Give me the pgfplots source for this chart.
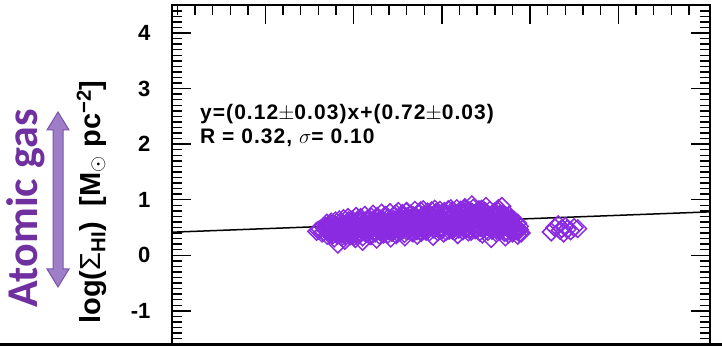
\documentclass[border=0pt]{standalone}
\usepackage{fontspec}
\setmainfont{Liberation Sans}
\newfontfamily\calib{Carlito}
\usepackage{pgfplots}
\pgfplotsset{compat=1.18}
\definecolor{mviolet}{RGB}{138,43,226}
\definecolor{titlepurple}{RGB}{112,48,160}
\definecolor{arrowfill}{RGB}{158,126,198}
\definecolor{arrowedge}{RGB}{122,84,172}

\begin{document}
\begin{tikzpicture}
\path[use as bounding box] (0pt,0pt) rectangle (722pt,347pt);
\begin{axis}[
  at={(172pt,2.8pt)}, anchor=south west,
  scale only axis, width=538pt, height=338.9pt,
  xmin=-2.53, xmax=0.52, ymin=-1.6, ymax=4.5,
  xtick=\empty,
  ytick={-1,0,1,2,3,4},
  major tick length=0pt,
  axis line style={line width=2pt},
  /pgf/number format/assume math mode=true,
  yticklabel style={font=\fontsize{22}{22}\selectfont\bfseries, xshift=-18pt},
]
% surface densities of the sampled regions
\addplot[only marks, mark=square, mark size=6.2pt,
  mark options={rotate=45, line width=1.5pt, draw=mviolet, fill=none}]
table {
x y
-1.71 0.43
-1.69 0.47
-1.68 0.40
-1.66 0.52
-1.65 0.36
-1.64 0.45
-1.63 0.56
-1.62 0.41
-1.61 0.31
-1.60 0.49
-1.59 0.20
-1.58 0.58
-1.57 0.38
-1.56 0.46
-1.55 0.27
-1.54 0.53
-1.53 0.62
-1.52 0.35
-1.51 0.44
-1.50 0.57
-1.49 0.30
-1.48 0.50
-1.47 0.66
-1.46 0.41
-1.45 0.25
-1.44 0.55
-1.43 0.47
-1.42 0.61
-1.41 0.36
-1.40 0.69
-1.39 0.52
-1.38 0.43
-1.37 0.29
-1.36 0.58
-1.35 0.65
-1.34 0.48
-1.33 0.38
-1.32 0.72
-1.31 0.55
-1.30 0.44
-1.29 0.31
-1.28 0.62
-1.27 0.51
-1.26 0.75
-1.25 0.40
-1.24 0.57
-1.23 0.68
-1.22 0.46
-1.21 0.33
-1.20 0.79
-1.19 0.60
-1.18 0.52
-1.17 0.42
-1.16 0.71
-1.15 0.56
-1.14 0.36
-1.13 0.64
-1.12 0.80
-1.11 0.49
-1.10 0.58
-1.09 0.43
-1.08 0.74
-1.07 0.62
-1.06 0.53
-1.05 0.34
-1.04 0.83
-1.03 0.66
-1.02 0.47
-1.01 0.57
-1.00 0.76
-0.99 0.40
-0.98 0.61
-0.97 0.70
-0.96 0.52
-0.95 0.84
-0.94 0.45
-0.93 0.64
-0.92 0.57
-0.91 0.37
-0.90 0.78
-0.89 0.68
-0.88 0.50
-0.87 0.86
-0.86 0.60
-0.85 0.42
-0.84 0.72
-0.83 0.91
-0.82 0.55
-0.81 0.65
-0.80 0.47
-0.79 0.82
-0.78 0.58
-0.77 0.38
-0.76 0.70
-0.75 0.88
-0.74 0.52
-0.73 0.63
-0.72 0.30
-0.71 0.76
-0.70 0.56
-0.69 0.45
-0.68 0.84
-0.67 0.66
-0.66 0.88
-0.65 0.50
-0.64 0.60
-0.63 0.42
-0.62 0.72
-0.61 0.54
-0.60 0.48
-0.59 0.63
-0.58 0.44
-0.57 0.58
-0.56 0.46
-0.55 0.40
-0.56 0.52
-1.58 0.48
-1.50 0.45
-1.43 0.55
-1.36 0.50
-1.30 0.60
-1.22 0.58
-1.15 0.65
-1.08 0.55
-1.02 0.68
-0.96 0.62
-0.90 0.58
-0.84 0.64
-0.78 0.70
-0.72 0.60
-0.66 0.70
-0.62 0.62
-1.45 0.62
-1.25 0.50
-1.05 0.72
-0.88 0.74
-0.70 0.68
-1.34 0.40
-1.12 0.45
-0.94 0.48
-0.76 0.54
-0.60 0.40
-0.57 0.36
-0.64 0.33
-1.70 0.45
-1.67 0.42
-1.64 0.50
-1.62 0.47
-1.60 0.40
-1.58 0.53
-1.56 0.43
-1.55 0.50
-1.53 0.47
-1.52 0.55
-1.50 0.38
-1.48 0.60
-1.47 0.48
-1.46 0.52
-1.44 0.42
-1.42 0.50
-1.41 0.58
-1.40 0.45
-1.39 0.63
-1.38 0.55
-1.37 0.48
-1.35 0.42
-1.34 0.60
-1.33 0.53
-1.32 0.47
-1.31 0.66
-1.29 0.52
-1.28 0.45
-1.27 0.58
-1.26 0.62
-1.24 0.48
-1.23 0.54
-1.22 0.70
-1.21 0.50
-1.20 0.44
-1.19 0.66
-1.18 0.58
-1.17 0.62
-1.16 0.50
-1.14 0.56
-1.13 0.48
-1.12 0.68
-1.11 0.60
-1.10 0.52
-1.09 0.64
-1.08 0.46
-1.07 0.70
-1.06 0.58
-1.04 0.52
-1.03 0.60
-1.02 0.75
-1.01 0.48
-1.00 0.62
-0.99 0.55
-0.98 0.72
-0.97 0.58
-0.96 0.45
-0.95 0.66
-0.94 0.74
-0.93 0.52
-0.92 0.68
-0.91 0.60
-0.90 0.50
-0.89 0.76
-0.88 0.62
-0.87 0.55
-0.86 0.70
-0.85 0.64
-0.84 0.48
-0.83 0.78
-0.82 0.66
-0.81 0.56
-0.80 0.74
-0.79 0.62
-0.78 0.50
-0.77 0.68
-0.76 0.80
-0.75 0.60
-0.74 0.72
-0.73 0.55
-0.72 0.66
-0.71 0.48
-0.70 0.78
-0.69 0.62
-0.68 0.56
-0.67 0.74
-0.66 0.52
-0.65 0.64
-0.64 0.70
-0.63 0.55
-0.62 0.48
-0.61 0.66
-0.60 0.58
-0.59 0.52
-0.58 0.50
-0.57 0.45
-0.56 0.40
-1.665 0.49
-1.655 0.44
-1.645 0.53
-1.635 0.47
-1.625 0.51
-1.615 0.44
-1.605 0.55
-1.595 0.50
-1.585 0.45
-1.575 0.52
-1.565 0.57
-1.545 0.48
-1.535 0.56
-1.525 0.50
-1.515 0.60
-1.505 0.52
-1.495 0.47
-1.485 0.56
-1.475 0.53
-1.465 0.60
-1.455 0.49
-1.445 0.58
-1.435 0.52
-1.425 0.64
-1.415 0.55
-1.405 0.50
-1.395 0.58
-1.385 0.62
-1.375 0.54
-1.365 0.66
-1.355 0.53
-1.345 0.57
-1.335 0.63
-1.325 0.52
-1.315 0.59
-1.305 0.67
-1.295 0.56
-1.285 0.50
-1.275 0.65
-1.265 0.57
-1.255 0.54
-1.245 0.67
-1.235 0.60
-1.225 0.52
-1.215 0.63
-1.205 0.57
-1.195 0.70
-1.185 0.54
-1.175 0.66
-1.165 0.60
-1.155 0.52
-1.145 0.69
-1.135 0.58
-1.125 0.62
-1.115 0.55
-1.105 0.72
-1.095 0.59
-1.085 0.65
-1.075 0.53
-1.065 0.68
-1.055 0.61
-1.045 0.57
-1.035 0.72
-1.025 0.63
-1.015 0.55
-1.005 0.69
-0.995 0.64
-0.985 0.57
-0.975 0.74
-0.965 0.66
-0.955 0.55
-0.945 0.70
-0.935 0.61
-0.925 0.76
-0.915 0.65
-0.905 0.55
-0.895 0.71
-0.885 0.66
-0.875 0.60
-0.865 0.77
-0.855 0.67
-0.845 0.57
-0.835 0.70
-0.825 0.62
-0.815 0.75
-0.805 0.58
-0.795 0.69
-0.785 0.64
-0.775 0.56
-0.765 0.74
-0.755 0.66
-0.745 0.60
-0.735 0.70
-0.725 0.52
-0.715 0.65
-0.705 0.61
-0.695 0.72
-0.685 0.55
-0.675 0.62
-0.665 0.58
-0.655 0.68
-0.645 0.56
-0.635 0.62
-0.625 0.52
-0.615 0.58
-0.605 0.50
-1.652 0.58
-1.641 0.39
-1.628 0.60
-1.617 0.37
-1.603 0.62
-1.592 0.36
-1.581 0.64
-1.569 0.33
-1.558 0.66
-1.546 0.35
-1.532 0.68
-1.521 0.38
-1.509 0.64
-1.497 0.34
-1.486 0.70
-1.473 0.37
-1.461 0.68
-1.449 0.33
-1.437 0.72
-1.426 0.39
-1.414 0.66
-1.402 0.35
-1.391 0.74
-1.378 0.40
-1.366 0.70
-1.354 0.36
-1.342 0.76
-1.331 0.42
-1.318 0.71
-1.306 0.38
-1.294 0.77
-1.283 0.41
-1.271 0.72
-1.259 0.37
-1.247 0.79
-1.236 0.43
-1.224 0.75
-1.212 0.39
-1.201 0.78
-1.188 0.45
-1.176 0.74
-1.164 0.40
-1.153 0.81
-1.141 0.44
-1.129 0.76
-1.117 0.41
-1.106 0.82
-1.094 0.46
-1.082 0.78
-1.071 0.42
-1.058 0.80
-1.046 0.47
-1.034 0.77
-1.023 0.42
-1.011 0.81
-0.999 0.46
-0.987 0.79
-0.976 0.43
-0.964 0.82
-0.952 0.48
-0.941 0.80
-0.928 0.43
-0.916 0.84
-0.904 0.47
-0.893 0.81
-0.881 0.44
-0.869 0.83
-0.858 0.48
-0.846 0.80
-0.834 0.43
-0.822 0.85
-0.811 0.46
-0.799 0.79
-0.787 0.42
-0.776 0.83
-0.763 0.47
-0.751 0.78
-0.739 0.43
-0.728 0.81
-0.716 0.45
-0.704 0.76
-0.692 0.40
-0.681 0.79
-0.669 0.44
-0.657 0.74
-0.645 0.41
-0.634 0.70
-0.622 0.38
-0.611 0.66
-0.598 0.43
-0.38 0.42
-0.36 0.50
-0.34 0.55
-0.33 0.45
-0.32 0.48
-0.31 0.40
-0.30 0.52
-0.29 0.47
-0.27 0.44
-0.25 0.50
-0.23 0.48
};
% linear fit y = 0.12x + 0.72
\addplot[black, line width=1.5pt] coordinates {(-2.53,0.416) (0.52,0.782)};
\end{axis}
% inward tick marks on the frame (frame: x 172..710pt, y 2.8..341.7pt;
% 55.557pt per unit in y, 176.39pt per unit in x)
\begin{scope}[x=1pt, y=1pt, line width=1.4pt]
  \foreach \v in {-1.5,-1.4,...,4.45} {
    \draw (172,{2.8+(\v+1.6)*55.557}) -- ++(10,0);
    \draw (710,{2.8+(\v+1.6)*55.557}) -- ++(-10,0);
  }
  \foreach \v in {-1,0,...,4} {
    \draw (172,{2.8+(\v+1.6)*55.557}) -- ++(19,0);
    \draw (710,{2.8+(\v+1.6)*55.557}) -- ++(-19,0);
  }
  \foreach \u in {-2.5,-2.4,...,0.45} {
    \draw ({172+(\u+2.53)*176.39},341.7) -- ++(0,-10);
  }
  \foreach \u in {-2,-1.5,...,0} {
    \draw ({172+(\u+2.53)*176.39},341.7) -- ++(0,-19);
  }
\end{scope}
% separator rule along the bottom
\draw[line width=3pt] (0pt,2.3pt) -- (722pt,2.3pt);
% fit annotation
\node[anchor=base west, inner sep=0,
  font=\fontsize{21}{21}\selectfont\bfseries\addfontfeature{LetterSpace=5}]
  at (200pt,227pt) {y=(0.12$\pm$0.03)x+(0.72$\pm$0.03)};
\node[anchor=base west, inner sep=0,
  font=\fontsize{21}{21}\selectfont\bfseries\addfontfeature{LetterSpace=5}]
  at (200pt,203pt) {R = 0.32, $\sigma$= 0.10};
% axis title
\node[rotate=90, anchor=base, inner sep=0, font=\fontsize{29}{29}\selectfont\bfseries]
  at (100pt,145pt) {log({\mdseries Σ}\textsubscript{HI})\ \ [M\textsubscript{$\odot$} pc\textsuperscript{−2}]};
% side label with double arrow
\fill[arrowfill, draw=arrowedge, line width=1pt]
  (53pt,78pt) -- (47pt,78pt) -- (58pt,60pt) -- (69pt,78pt) -- (63pt,78pt)
  -- (63pt,217pt) -- (69pt,217pt) -- (58pt,235pt) -- (47pt,217pt)
  -- (53pt,217pt) -- cycle;
\node[rotate=90, anchor=base, inner sep=0, text=titlepurple,
  font=\calib\fontsize{44}{44}\selectfont\bfseries]
  at (37pt,138.5pt) {Atomic gas};
\end{tikzpicture}
\end{document}
